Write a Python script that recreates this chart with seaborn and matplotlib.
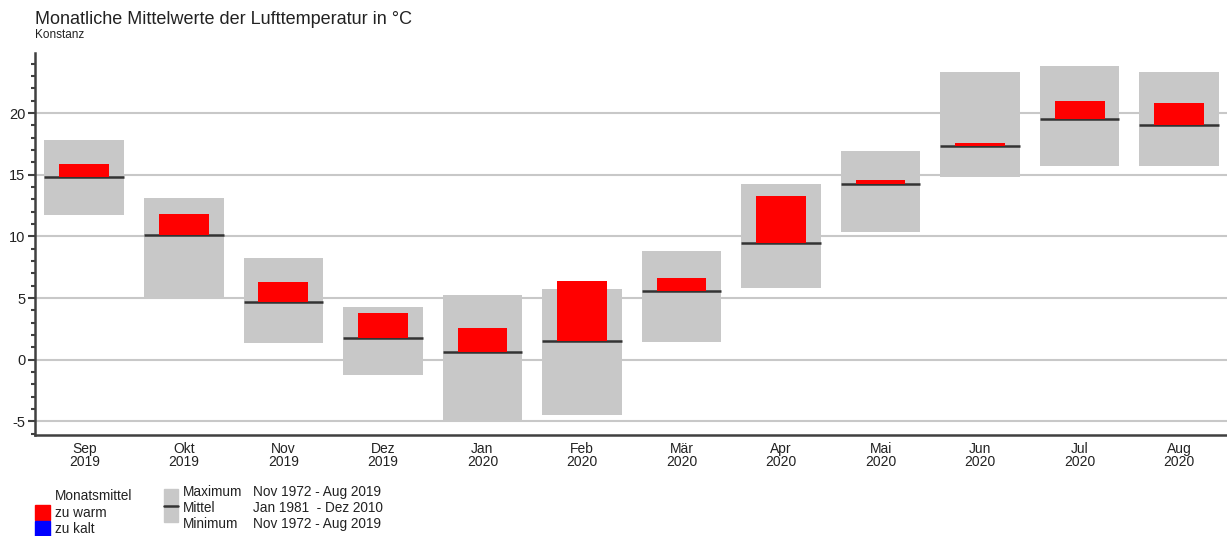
import numpy as np
import pandas as pd
import matplotlib
matplotlib.use("Agg")
import matplotlib.pyplot as plt
from matplotlib.patches import Rectangle
from matplotlib.lines import Line2D
from matplotlib.ticker import MultipleLocator
import seaborn as sns

# ---- data ----
months = ["Sep\n2019", "Okt\n2019", "Nov\n2019", "Dez\n2019", "Jan\n2020", "Feb\n2020",
          "Mär\n2020", "Apr\n2020", "Mai\n2020", "Jun\n2020", "Jul\n2020", "Aug\n2020"]
t_max = [17.8, 13.15, 8.25, 4.25, 5.25, 5.7, 8.85, 14.25, 16.9, 23.3, 23.8, 23.3]
t_min = [11.7, 5.1, 1.4, -1.25, -5.0, -4.5, 1.45, 5.85, 10.35, 14.85, 15.75, 15.75]
t_mean = [14.8, 10.15, 4.65, 1.8, 0.65, 1.55, 5.55, 9.45, 14.25, 17.3, 19.5, 19.0]
t_month = [15.85, 11.85, 6.3, 3.8, 2.6, 6.35, 6.6, 13.3, 14.6, 17.55, 20.95, 20.85]

GRAY = "#c8c8c8"
RED = "#ff0000"
BLUE = "#0000ff"
AXC = "#404040"

sns.set_theme(style="white")
plt.rcParams["font.family"] = ["Liberation Sans", "DejaVu Sans"]
plt.rcParams["axes.unicode_minus"] = False

df = pd.DataFrame({"Monat": months, "max": t_max, "min": t_min,
                   "mittel": t_mean, "wert": t_month})
df["range"] = df["max"] - df["min"]
df["diff"] = df["wert"] - df["mittel"]
df["farbe"] = np.where(df["diff"] >= 0, "zu warm", "zu kalt")

fig = plt.figure(figsize=(12.27, 5.36), dpi=100)
ax = fig.add_axes([35 / 1227, 1 - 435 / 536, 1 - 35 / 1227, (435 - 52.7) / 536])

# range boxes (min..max)
sns.barplot(data=df, x="Monat", y="range", bottom=df["min"].values, color=GRAY,
            saturation=1, width=0.8, linewidth=0, ax=ax)
n_gray = len(ax.patches)
for p in ax.patches:
    p.set_zorder(2)

# long-term mean lines
xs = np.arange(len(df))
ax.hlines(df["mittel"], xs - 0.4, xs + 0.4, color="#333333", lw=1.8, zorder=3)

# monthly means relative to long-term mean
sns.barplot(data=df, x="Monat", y="diff", bottom=df["mittel"].values, hue="farbe",
            palette={"zu warm": RED, "zu kalt": BLUE}, saturation=1, width=0.5,
            linewidth=0, legend=False, ax=ax)
for p in ax.patches[n_gray:]:
    p.set_zorder(4)

ax.set_xlim(-0.495, 11.48)
ax.set_ylim(-6.1, 24.9)
ax.set_xlabel("")
ax.set_ylabel("")

ax.yaxis.set_major_locator(MultipleLocator(5))
ax.yaxis.set_minor_locator(MultipleLocator(1))
ax.grid(axis="y", which="major", color=GRAY, lw=1.5, zorder=0)
ax.grid(axis="x", visible=False)
ax.set_axisbelow(True)

for s in ["top", "right"]:
    ax.spines[s].set_visible(False)
for s in ["left", "bottom"]:
    ax.spines[s].set_color(AXC)
    ax.spines[s].set_linewidth(1.8)

ax.tick_params(axis="y", which="major", direction="out", length=5, width=1.5,
               color=AXC, labelsize=10.5, labelcolor="#222222", pad=2, left=True)
ax.tick_params(axis="y", which="minor", direction="out", length=3, width=1.5,
               color=AXC, left=True)
ax.tick_params(axis="x", which="both", length=0, labelsize=10, labelcolor="#222222", pad=5)
for lab in ax.get_xticklabels():
    lab.set_linespacing(0.95)

# title
fig.text(35 / 1227, 1 - 19 / 536, "Monatliche Mittelwerte der Lufttemperatur in °C",
         fontsize=13, color="#222222", va="center", ha="left")
fig.text(35 / 1227, 1 - 35 / 536, "Konstanz", fontsize=8.5, color="#222222",
         va="center", ha="left")

# legend (figure coordinates in pixels)
W, H = 1227, 536
def fx(px):
    return px / W
def fy(py):
    return 1 - py / H

lfs = 9.8
fig.text(fx(55), fy(496), "Monatsmittel", fontsize=lfs, va="center", color="#222222")
fig.patches.append(Rectangle((fx(35), fy(520)), fx(15), 15 / H, color=RED,
                             transform=fig.transFigure, figure=fig))
fig.text(fx(55), fy(513), "zu warm", fontsize=lfs, va="center", color="#222222")
fig.patches.append(Rectangle((fx(35), fy(537)), fx(15), 16 / H, color=BLUE,
                             transform=fig.transFigure, figure=fig))
fig.text(fx(55), fy(529), "zu kalt", fontsize=lfs, va="center", color="#222222")

fig.patches.append(Rectangle((fx(164), fy(522)), fx(14), 33 / H, color=GRAY,
                             transform=fig.transFigure, figure=fig))
fig.lines.append(Line2D([fx(164), fx(178)], [fy(506), fy(506)], color="#333333",
                        lw=1.8, transform=fig.transFigure, figure=fig))
rows = [("Maximum", "Nov 1972 - Aug 2019", 492),
        ("Mittel", "Jan 1981  - Dez 2010", 508),
        ("Minimum", "Nov 1972 - Aug 2019", 524)]
for name, per, py in rows:
    fig.text(fx(183), fy(py), name, fontsize=lfs, va="center", color="#222222")
    fig.text(fx(253), fy(py), per, fontsize=lfs, va="center", color="#222222")

fig.savefig("out.png", dpi=100)
